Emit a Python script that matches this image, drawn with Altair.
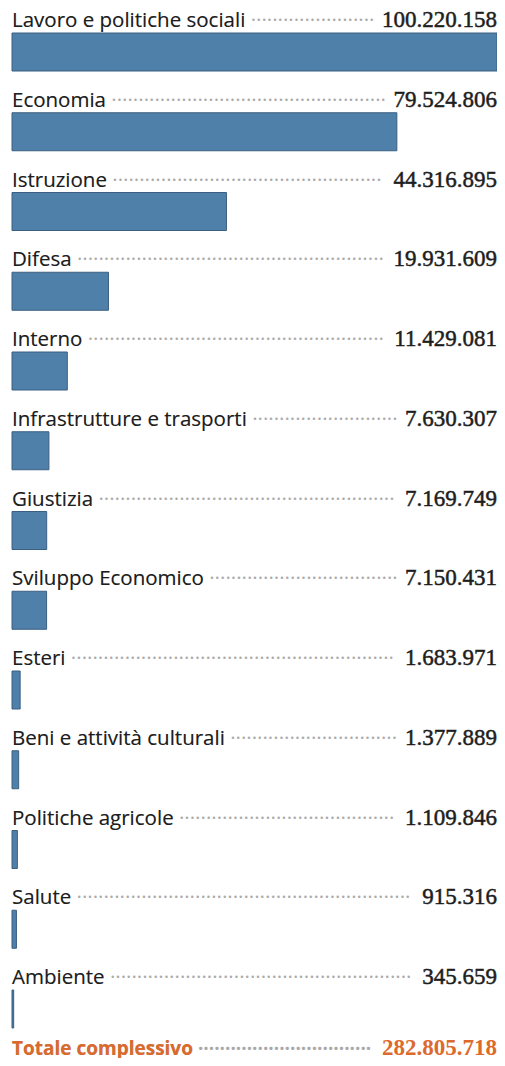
import altair as alt
import pandas as pd

cats = ["Lavoro e politiche sociali", "Economia", "Istruzione", "Difesa", "Interno",
        "Infrastrutture e trasporti", "Giustizia", "Sviluppo Economico", "Esteri",
        "Beni e attività culturali", "Politiche agricole", "Salute", "Ambiente"]
values = [100220158, 79524806, 44316895, 19931609, 11429081, 7630307, 7169749,
          7150431, 1683971, 1377889, 1109846, 915316, 345659]
total_label = "Totale complessivo"
total_value = 282805718

BAR = "#4f80a9"
STROKE = "#3b5f80"
ORANGE = "#dc6a2c"
TEXT = "#1e1e1e"
DOTS = "#aaaaaa"
SANS = "Open Sans"
SERIF = "Liberation Serif"
W = 485
H = 1040

def it(v):
    return f"{v:,}".replace(",", ".")

LEAD = " " + "\u00b7" * 200

df = pd.DataFrame({"cat": cats, "value": values, "vs": [it(v) for v in values],
                   "lead": [c + LEAD for c in cats]})
tdf = pd.DataFrame({"cat": [total_label], "value": [total_value],
                    "vs": [it(total_value)], "lead": [total_label + LEAD]})

domain = cats + [total_label]
step = 79.75
pin = 0.5235
pout = 0.3135
rng_end = step * (len(domain) - pin + 2 * pout)
yscale = alt.Scale(type="band", domain=domain, range=[0, rng_end],
                   paddingInner=pin, paddingOuter=pout)
y = alt.Y("cat:N", scale=yscale, axis=None, sort=None)
xscale = alt.Scale(domain=[0, max(values)], nice=False, zero=True)

base = alt.Chart(df)
tbase = alt.Chart(tdf)

bars = base.mark_bar(color=BAR, stroke=STROKE, strokeWidth=1).encode(
    x=alt.X("value:Q", scale=xscale, axis=None), y=y)

calc = dict(nd="length(toString(datum.value))")

leader = base.transform_calculate(**calc).transform_calculate(
    lim=f"{W} - (11.5*datum.nd + 5.75*floor((datum.nd-1)/3)) - 7"
).mark_text(align="left", baseline="alphabetic", dy=-25, font=SANS, fontSize=20.5,
            color=DOTS, limit=alt.ExprRef("datum.lim"), ellipsis="\u00b7").encode(
    x=alt.datum(0, scale=xscale), y=y, text="lead:N")

labels = base.mark_text(align="left", baseline="alphabetic", dy=-25, font=SANS,
                        fontSize=20.5, color=TEXT).encode(
    x=alt.datum(0), y=y, text="cat:N")

vals = base.mark_text(align="right", baseline="alphabetic", dy=-25, font=SERIF,
                      fontSize=23, color=TEXT, stroke=TEXT, strokeWidth=0.5).encode(
    x=alt.datum(max(values)), y=y, text="vs:N")

tleader = tbase.transform_calculate(**calc).transform_calculate(
    lim=f"{W} - (11.5*datum.nd + 5.75*floor((datum.nd-1)/3)) - 7"
).mark_text(align="left", baseline="alphabetic", dy=-34, font=SANS, fontSize=19,
            fontWeight="bold", color=DOTS, limit=alt.ExprRef("datum.lim"),
            ellipsis="\u00b7").encode(
    x=alt.datum(0), y=y, text="lead:N")

tlabel = tbase.mark_text(align="left", baseline="alphabetic", dy=-34, font=SANS,
                         fontSize=19, fontWeight="bold", color=ORANGE).encode(
    x=alt.datum(0), y=y, text="cat:N")

tval = tbase.mark_text(align="right", baseline="alphabetic", dy=-34, font=SERIF,
                       fontSize=23, fontWeight="bold", color=ORANGE).encode(
    x=alt.datum(max(values)), y=y, text="vs:N")

chart = alt.layer(bars, leader, labels, vals, tleader, tlabel, tval).properties(
    width=W, height=H, autosize="none",
    padding={"left": 4, "top": 0, "right": 0, "bottom": 10},
).configure_view(stroke=None)

chart.save("out.html", embed_options={"renderer": "svg", "actions": False})
